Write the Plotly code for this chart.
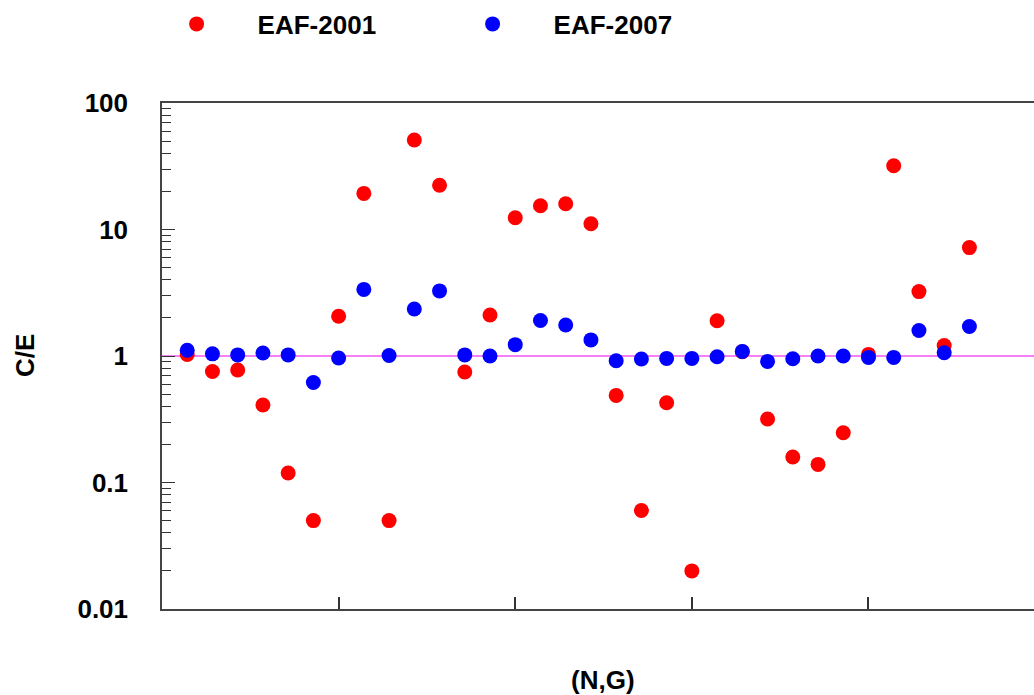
import plotly.graph_objects as go

# data (index of reaction, C/E ratio)
reaction_index = list(range(1, 33))
eaf_2001 = [1.03, 0.755, 0.775, 0.41, 0.119, 0.050, 2.06, 19.3, 0.050, 51.0,
            22.4, 0.747, 2.11, 12.4, 15.4, 16.0, 11.1, 0.488, 0.060, 0.427,
            0.020, 1.90, 1.08, 0.318, 0.159, 0.139, 0.247, 1.03, 31.9, 3.23,
            1.21, 7.19]
eaf_2007 = [1.11, 1.04, 1.02, 1.056, 1.02, 0.618, 0.965, 3.36, 1.01, 2.35,
            3.27, 1.02, 1.0, 1.23, 1.91, 1.76, 1.34, 0.918, 0.946, 0.957,
            0.957, 0.987, 1.087, 0.906, 0.952, 1.0, 1.0, 0.975, 0.975, 1.59,
            1.06, 1.71]
x_ticks = [7, 14, 21, 28]
y_ticks = [0.01, 0.1, 1, 10, 100]
y_ticktext = ["0.01", "0.1", "1", "10", "100"]
y_minor = [m * d for d in [0.01, 0.1, 1, 10] for m in range(2, 10)]

FONT = "Liberation Sans"
FS = 26

fig = go.Figure()
fig.add_trace(go.Scatter(x=reaction_index, y=eaf_2001, mode="markers", name="EAF-2001",
                         marker=dict(color="#ff0000", size=15, line=dict(width=0))))
fig.add_trace(go.Scatter(x=reaction_index, y=eaf_2007, mode="markers", name="EAF-2007",
                         marker=dict(color="#0000ff", size=15, line=dict(width=0))))

fig.add_shape(type="line", xref="paper", x0=0, x1=1, yref="y", y0=1, y1=1,
              line=dict(color="#ee00ee", width=1), layer="below")

fig.update_layout(
    width=1034, height=695,
    margin=dict(l=162, r=0, t=103, b=86),
    plot_bgcolor="white", paper_bgcolor="white",
    font=dict(family=FONT, size=FS, color="black", weight="bold"),
    showlegend=True,
    legend=dict(orientation="h", xref="container", yref="container",
                x=135.6 / 1034, xanchor="left", y=1 - 24 / 695, yanchor="middle",
                itemwidth=112, entrywidth=169, entrywidthmode="pixels",
                font=dict(family=FONT, size=FS, weight="bold"),
                bgcolor="rgba(0,0,0,0)", itemclick=False),
    xaxis=dict(range=[0, 34.56], tickvals=x_ticks, showticklabels=False,
               ticks="inside", ticklen=12, tickcolor="#333", tickwidth=1.5,
               showline=True, linecolor="#444", linewidth=1.5, mirror=True,
               showgrid=False, zeroline=False),
    yaxis=dict(type="log", range=[-2, 2], tickvals=y_ticks, ticktext=y_ticktext,
               ticks="inside", ticklen=13, tickcolor="#333", tickwidth=1.2,
               ticklabelstandoff=27,
               minor=dict(tickvals=y_minor, ticks="inside", ticklen=9,
                          tickcolor="#333", tickwidth=1.2, showgrid=False),
               showline=True, linecolor="#444", linewidth=1.5, mirror=False,
               showgrid=False, zeroline=False,
               tickfont=dict(family=FONT, size=FS, weight="bold")),
    annotations=[
        dict(text="C/E", xref="paper", yref="paper", x=-0.157, y=0.5, textangle=-90,
             showarrow=False, xanchor="center", yanchor="middle",
             font=dict(family=FONT, size=FS, weight="bold")),
        dict(text="(N,G)", xref="paper", yref="paper", x=(603 - 162) / 872, y=-0.140,
             showarrow=False, xanchor="center", yanchor="middle",
             font=dict(family=FONT, size=FS, weight="bold")),
    ],
)

fig.write_html("out.html")
